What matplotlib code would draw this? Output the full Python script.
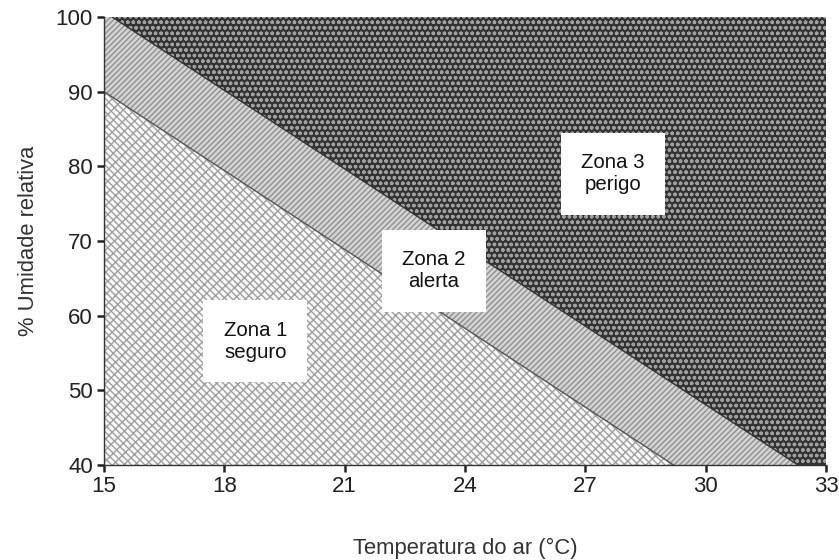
import matplotlib
matplotlib.use("Agg")
import matplotlib.pyplot as plt
import numpy as np

plt.rcParams['font.family'] = ['Liberation Sans', 'DejaVu Sans']

# Data
x_ticks = [15, 18, 21, 24, 27, 30, 33]
y_ticks = [40, 50, 60, 70, 80, 90, 100]
# boundary zone1/zone2
b1_x = [15, 29.2]
b1_y = [90, 40]
# boundary zone2/zone3
b2_x = [15.2, 32.3]
b2_y = [100, 40]
zone_labels = ["Zona 1\nseguro", "Zona 2\nalerta", "Zona 3\nperigo"]
label_x = [18.77, 23.23, 27.69]
label_y = [56.6, 66.0, 79.0]

xmin, xmax, ymin, ymax = 15, 33, 40, 100

fig = plt.figure(figsize=(8.39, 5.6), dpi=100)
ax = fig.add_axes([104/839, 1-465/560, (826-104)/839, (465-17)/560])

# Zone 1 polygon
z1x = [xmin, b1_x[0], b1_x[1]]
z1y = [ymin, b1_y[0], b1_y[1]]
# Zone 2 polygon
z2x = [b1_x[0], xmin, b2_x[0], b2_x[1], b1_x[1]]
z2y = [b1_y[0], ymax, b2_y[0], b2_y[1], b1_y[1]]
# Zone 3 polygon
z3x = [b2_x[0], xmax, xmax, b2_x[1]]
z3y = [b2_y[0], ymax, ymin, b2_y[1]]

plt.rcParams['hatch.linewidth'] = 1.0
ax.fill(z1x, z1y, facecolor='#f8f8f8', edgecolor='#a0a0a0', hatch='///\\\\\\\\\\', linewidth=0)
ax.fill(z2x, z2y, facecolor='#d4d4d4', edgecolor='#909090', hatch='//////', linewidth=0)
ax.fill(z3x, z3y, facecolor='#333333', edgecolor='#a0a0a0', hatch='ooo', linewidth=0)

ax.plot(b1_x, b1_y, color='#555555', lw=1.0)
ax.plot(b2_x, b2_y, color='#333333', lw=1.0)

for t, lx, ly in zip(zone_labels, label_x, label_y):
    ax.text(lx, ly, t, ha='center', va='center', fontsize=14.7, color='#111111',
            linespacing=1.2,
            bbox=dict(boxstyle='square,pad=1.0', facecolor='white', edgecolor='none'))

ax.set_xlim(xmin, xmax)
ax.set_ylim(ymin, ymax)
ax.set_xticks(x_ticks)
ax.set_yticks(y_ticks)
ax.tick_params(axis='both', direction='out', length=5, width=1.8, color='#222222',
               labelsize=16, labelcolor='#222222', pad=3)
for s in ax.spines.values():
    s.set_color('#333333')
    s.set_linewidth(1.0)
ax.spines['top'].set_visible(False)
ax.spines['right'].set_visible(False)

ax.set_xlabel('Temperatura do ar (°C)', fontsize=15.8, color='#333333', labelpad=29)
ax.set_ylabel('% Umidade relativa', fontsize=15.8, color='#333333', labelpad=12)

fig.savefig('out.png', dpi=100)
